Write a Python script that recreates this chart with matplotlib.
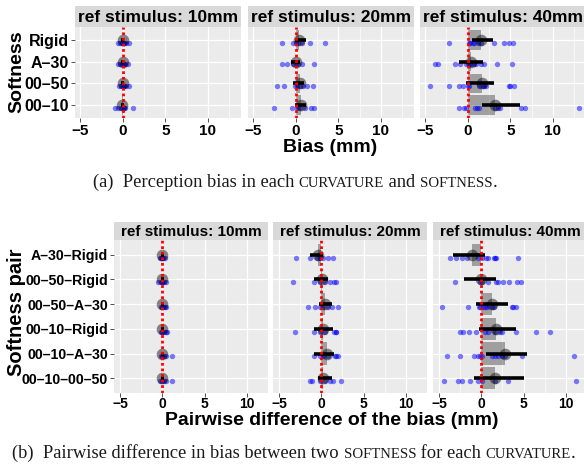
import numpy as np
import matplotlib
matplotlib.use("Agg")
import matplotlib.pyplot as plt

# ---- data ----
stimuli = ["10mm", "20mm", "40mm"]
softness = ["Rigid", "A–30", "00–50", "00–10"]
pairs = ["A–30–Rigid", "00–50–Rigid", "00–50–A–30",
         "00–10–Rigid", "00–10–A–30", "00–10–00–50"]

# (a) perception bias, one list of participants per softness row
bias_10_pts = [[-0.6, -0.3, -0.1, 0.0, 0.1, 0.2, 0.4, 0.7],
               [-0.5, -0.3, -0.1, 0.0, 0.1, 0.3, 0.6],
               [-0.4, -0.2, 0.0, 0.1, 0.2, 0.4, 0.8],
               [-0.9, -0.5, -0.2, 0.0, 0.1, 0.3, 1.2]]
bias_10_mean = [0.0, 0.0, 0.0, -0.05]
bias_10_ci = [(-0.15, 0.15), (-0.15, 0.15), (-0.15, 0.15), (-0.2, 0.1)]

bias_20_pts = [[-1.6, -0.3, 0.0, 0.3, 0.7, 1.7, 3.5],
               [-1.6, -1.0, -0.3, 0.0, 0.3, 0.8, 2.2],
               [-2.2, -1.4, -0.1, 0.1, 0.5, 0.9, 1.3, 2.0],
               [-2.55, -0.4, 0.1, 0.5, 1.05, 1.8, 2.1]]
bias_20_mean = [0.4, 0.0, 0.45, 0.6]
bias_20_ci = [(-0.1, 1.25), (-0.5, 0.45), (-0.3, 0.95), (-0.1, 1.25)]

bias_40_pts = [[-2.15, 0.1, 0.3, 0.6, 0.8, 1.2, 1.55, 3.05, 4.25, 4.8, 5.35],
               [-3.85, -3.45, -1.5, -0.85, -0.2, 0.1, 0.4, 0.7, 1.0, 1.55, 1.9, 3.45, 5.2],
               [-4.45, -2.15, -1.0, -0.6, 0.0, 0.2, 1.35, 1.75, 1.95, 2.15, 4.8, 5.0, 5.4],
               [-1.0, -0.4, -0.2, 0.85, 1.1, 1.35, 3.2, 3.55, 3.85, 6.25, 6.75, 13.05]]
bias_40_mean = [1.55, 0.4, 1.7, 3.2]
bias_40_ci = [(0.45, 2.95), (-1.05, 1.85), (-0.2, 3.15), (1.65, 6.1)]

# (b) pairwise difference of the bias, one list per softness pair
diff_10_pts = [[-0.3, -0.1, 0.0, 0.1, 0.3],
               [-0.5, -0.1, 0.0, 0.2, 0.4],
               [-0.2, 0.0, 0.1, 0.3, 0.5],
               [-0.1, 0.0, 0.2, 0.4, 0.6],
               [-0.2, 0.0, 0.2, 0.4, 1.1],
               [-0.3, 0.0, 0.2, 0.4, 1.1]]
diff_10_mean = [0.0, 0.0, 0.0, -0.05, -0.05, -0.05]
diff_10_ci = [(-0.15, 0.15)] * 6

diff_20_pts = [[-3.0, -1.3, -0.5, -0.1, 0.2, 0.75, 1.35],
               [-3.3, -0.8, -0.1, 0.45, 1.05, 1.45, 1.75],
               [-1.55, -0.7, -0.1, 0.25, 0.85, 1.25, 2.0],
               [-3.15, -0.9, -0.1, 0.45, 1.45, 1.75, 1.8],
               [-0.9, -0.1, 0.25, 0.85, 1.65, 1.8, 2.0],
               [-1.35, -1.1, -0.1, 0.45, 1.05, 1.35, 2.35]]
diff_20_mean = [-0.4, 0.1, 0.45, 0.25, 0.65, 0.2]
diff_20_ci = [(-1.35, 0.25), (-0.8, 0.85), (-0.3, 1.25),
              (-0.8, 1.35), (-0.9, 1.45), (-0.4, 1.25)]

diff_40_pts = [[-3.7, -3.0, -2.25, -1.65, -0.4, 0.1, 0.55, 0.8, 1.45, 1.65, 1.8, 4.4],
               [-3.1, -0.1, 0.1, 0.8, 1.8, 1.95, 2.6, 3.25, 4.25, 4.75],
               [-4.65, -1.55, -0.3, -0.1, 0.25, 0.45, 0.65, 1.25, 1.45, 3.65, 3.75, 4.15],
               [-2.55, -2.15, -1.4, -0.6, 0.45, 0.85, 1.65, 2.2, 2.4, 4.05, 6.45, 8.1],
               [-4.0, -2.5, -0.9, -0.4, -0.1, 0.1, 1.25, 1.65, 2.0, 2.5, 2.85, 4.8, 10.95],
               [-4.4, -2.7, -2.25, -1.3, -0.4, 0.1, 1.65, 3.2, 11.25]]
diff_40_mean = [-1.15, 0.0, 1.3, 1.7, 2.85, 1.6]
diff_40_ci = [(-3.3, 0.45), (-2.05, 1.75), (-0.6, 3.2),
              (-0.25, 4.05), (0.55, 5.4), (-0.8, 5.0)]

xticks = [-5, 0, 5, 10]

# ---- layout (pixels) ----
W, H = 584, 465
SANS = "Liberation Sans"
SERIF = "Liberation Serif"


def rect(x0, y0, x1, y1):
    return [x0 / W, 1 - y1 / H, (x1 - x0) / W, (y1 - y0) / H]


def facet_row(fig, panel_x, y0, y1, strip_y0, labels, sets, xlim,
              tick_fs, strip_fs, ylab_fs, xpad=1.5):
    n = len(labels)
    ypos = np.arange(n, 0, -1)
    for k, (x0, x1) in enumerate(panel_x):
        pts, mean, ci = sets[k]
        ax = fig.add_axes(rect(x0, y0, x1, y1))
        ax.set_facecolor("#EBEBEB")
        for s in ax.spines.values():
            s.set_visible(False)
        ax.set_xlim(*xlim)
        ax.set_ylim(0.4, n + 0.6)
        ax.set_xticks(xticks)
        ax.set_xticks(np.arange(-5, 15, 2.5), minor=True)
        ax.set_yticks(ypos)
        ax.grid(which="major", color="white", lw=0.9)
        ax.grid(which="minor", axis="x", color="white", lw=0.45)
        ax.set_axisbelow(True)
        ax.tick_params(which="minor", length=0)
        ax.tick_params(which="major", length=2.8, width=0.6, color="#333333",
                       pad=1.5, labelsize=tick_fs)
        ax.tick_params(axis="x", pad=xpad)
        for t in ax.get_xticklabels():
            t.set_fontweight("bold")
            t.set_family(SANS)
        if k == 0:
            ax.set_yticklabels(labels, fontsize=ylab_fs, fontweight="bold",
                               family=SANS)
        else:
            ax.set_yticklabels([])
            ax.tick_params(axis="y", length=0)

        ax.barh(ypos, mean, height=0.9, left=0, color="black", alpha=0.32,
                lw=0, zorder=2)
        for i, row in enumerate(pts):
            ax.scatter(row, np.full(len(row), ypos[i] - 0.12), s=15,
                       color="blue", alpha=0.5, lw=0, zorder=3)
        ax.scatter(mean, ypos, s=70, color="black", alpha=0.45, lw=0,
                   zorder=4)
        lo = [c[0] for c in ci]
        hi = [c[1] for c in ci]
        ax.hlines(ypos, lo, hi, color="black", lw=2.6, zorder=5)
        ax.axvline(0, color="red", lw=2.0, ls=(0, (1, 1)), zorder=6)

        st = fig.add_axes(rect(x0, strip_y0, x1, y0))
        st.set_facecolor("#D9D9D9")
        st.set_xticks([])
        st.set_yticks([])
        for s in st.spines.values():
            s.set_visible(False)
        st.text(0.5, 0.45, "ref stimulus: " + stimuli[k], ha="center",
                va="center", fontsize=strip_fs, fontweight="bold",
                family=SANS, transform=st.transAxes)


def text_width(fig, r, s, size):
    t = fig.text(0, 0, "|" + s + "|", fontsize=size, family=SERIF)
    b = fig.text(0, 0, "||", fontsize=size, family=SERIF)
    w = t.get_window_extent(r).width - b.get_window_extent(r).width
    t.remove()
    b.remove()
    return w


def caption(fig, cx, cy, parts, size):
    r = fig.canvas.get_renderer()
    sizes = [size * 0.8 if sc else size for _, sc in parts]
    strs = [s.upper() if sc else s for s, sc in parts]
    widths = [text_width(fig, r, s, z) for s, z in zip(strs, sizes)]
    x = cx - sum(widths) / 2
    for s, z, w in zip(strs, sizes, widths):
        fig.text(x / W, 1 - cy / H, s, fontsize=z, family=SERIF,
                 va="baseline", ha="left", color="#1a1a1a")
        x += w


fig = plt.figure(figsize=(W / 100, H / 100), dpi=100)
fig.patch.set_facecolor("white")

# (a)
facet_row(fig, [(75, 241), (248, 414), (420, 586)], 27, 118, 6,
          softness,
          [(bias_10_pts, bias_10_mean, bias_10_ci),
           (bias_20_pts, bias_20_mean, bias_20_ci),
           (bias_40_pts, bias_40_mean, bias_40_ci)],
          (-5.6, 13.9), 11, 12.5, 11.5)
fig.text(17 / W, 1 - 72 / H, "Softness", rotation=90, ha="center",
         va="center", fontsize=14, fontweight="bold", family=SANS)
fig.text(330 / W, 1 - 147 / H, "Bias (mm)", ha="center", va="center",
         fontsize=14, fontweight="bold", family=SANS)

# (b)
facet_row(fig, [(114, 268), (273, 427), (433, 587)], 240, 393, 222,
          pairs,
          [(diff_10_pts, diff_10_mean, diff_10_ci),
           (diff_20_pts, diff_20_mean, diff_20_ci),
           (diff_40_pts, diff_40_mean, diff_40_ci)],
          (-5.7, 12.2), 10, 11, 10.2, xpad=0.3)
fig.text(17 / W, 1 - 312 / H, "Softness pair", rotation=90, ha="center",
         va="center", fontsize=14.5, fontweight="bold", family=SANS)
fig.text(332 / W, 1 - 425 / H, "Pairwise difference of the bias (mm)",
         ha="center", va="baseline", fontsize=14, fontweight="bold",
         family=SANS)

caption(fig, 295, 187,
        [("(a)  Perception bias in each ", False), ("curvature", True),
         (" and ", False), ("softness", True), (".", False)], 13.3)
caption(fig, 294, 458,
        [("(b)  Pairwise difference in bias between two ", False),
         ("softness", True), (" for each ", False), ("curvature", True),
         (".", False)], 13.3)

fig.savefig("out.png", dpi=100)
